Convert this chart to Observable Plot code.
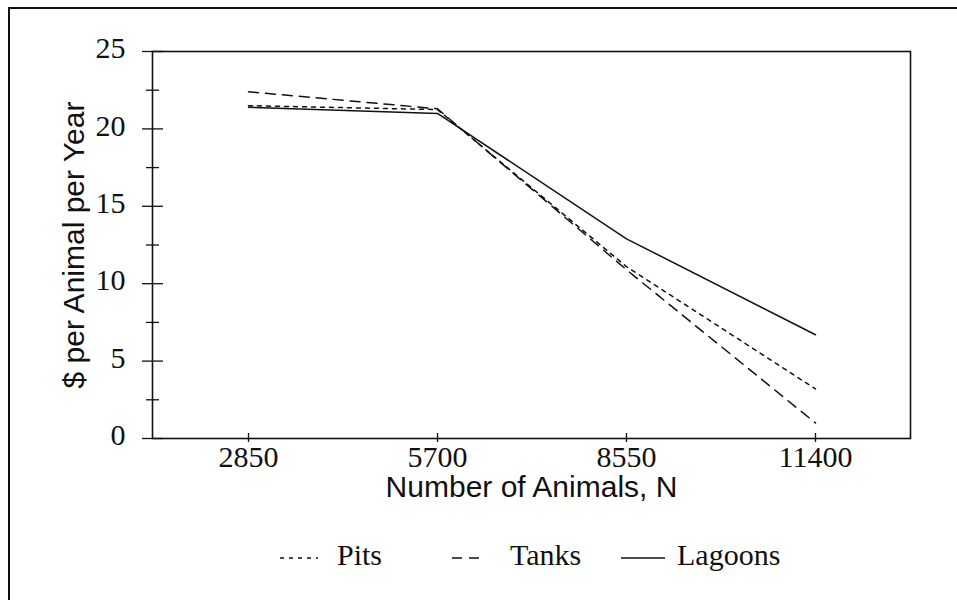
<!DOCTYPE html>
<html>
<head>
<meta charset="utf-8">
<script src="https://cdn.jsdelivr.net/npm/d3@7"></script>
<script src="https://cdn.jsdelivr.net/npm/@observablehq/plot@0.6"></script>
<style>
  html, body { margin: 0; padding: 0; background: #fff; }
  body { width: 957px; height: 600px; overflow: hidden; position: relative; }
  #border { position: absolute; left: 8px; top: 7px; width: 980px; height: 620px;
            border-top: 2px solid #111; border-left: 2px solid #111; }
  #chart { position: absolute; left: 0; top: 0; }
  .lg { position: absolute; font-family: "Liberation Serif", serif; font-size: 30px;
        line-height: 30px; color: #111; white-space: nowrap; }
  .sw { position: absolute; }
</style>
</head>
<body>
<div id="border"></div>
<div id="chart"></div>
<div id="legend"></div>
<script>
// ---- data ----
const categories = [2850, 5700, 8550, 11400];
const seriesNames = ["Pits", "Tanks", "Lagoons"];
const pits    = [21.5, 21.25, 11.1, 3.2];
const tanks   = [22.4, 21.3, 10.9, 1.0];
const lagoons = [21.4, 21.0, 12.9, 6.7];
const yMajorTicks = [0, 5, 10, 15, 20, 25];
const yMinorTicks = [2.5, 7.5, 12.5, 17.5, 22.5];
const xTitle = "Number of Animals, N";
const yTitle = "$ per Animal per Year";

// ---- styles ----
const dash = { Pits: "4,5", Tanks: "10,7", Lagoons: null };
const ink = "#111";
const W = 957, H = 510, mL = 152, mR = 47, mT = 51, mB = 72;
const plotW = W - mL - mR;

const valuesBySeries = { Pits: pits, Tanks: tanks, Lagoons: lagoons };
const rows = seriesNames.flatMap(s => categories.map((c, i) => ({ s, n: c, v: valuesBySeries[s][i] })));

const lineMarks = seriesNames.map(s =>
  Plot.line(rows.filter(r => r.s === s), {
    x: "n", y: "v", stroke: ink, strokeWidth: 1.5,
    strokeDasharray: dash[s] || undefined
  })
);

const chart = Plot.plot({
  width: W, height: H,
  marginLeft: mL, marginRight: mR, marginTop: mT, marginBottom: mB,
  x: { type: "point", domain: categories, padding: 0.5, label: null },
  y: { domain: [0, 25], label: null },
  style: { fontFamily: "Liberation Serif, serif", fontSize: "30px", color: ink, background: "transparent" },
  marks: [
    Plot.frame({ stroke: ink, strokeWidth: 1.6 }),
    Plot.axisY(yMajorTicks, { tickSize: 0, tickPadding: 27, dy: -3, fontSize: 30, label: null }),
    Plot.axisX(categories, { tickSize: 0, tickPadding: 7, fontSize: 30, tickFormat: d => String(d), label: null }),
    Plot.tickY(yMajorTicks, { y: d => d, stroke: ink, strokeWidth: 1.3, insetLeft: -10, insetRight: plotW - 11 }),
    Plot.tickY(yMinorTicks, { y: d => d, stroke: ink, strokeWidth: 1.3, insetLeft: -6, insetRight: plotW - 7 }),
    Plot.ruleX(categories, { x: d => d, y1: 0, y2: 0, stroke: ink, strokeWidth: 1.3, insetTop: -5, insetBottom: -4 }),
    ...lineMarks,
    Plot.text([xTitle], { frameAnchor: "bottom", textAnchor: "middle", lineAnchor: "middle", dy: 49,
      fontFamily: "Liberation Sans, Arial, sans-serif", fontSize: 30, fill: ink }),
    Plot.text([yTitle], { frameAnchor: "left", textAnchor: "middle", lineAnchor: "middle", rotate: -90, dx: -78,
      fontFamily: "Liberation Sans, Arial, sans-serif", fontSize: 30, fill: ink })
  ]
});
document.getElementById("chart").appendChild(chart);

// ---- legend (HTML, below the SVG) ----
const legendLayout = [
  { s: "Pits",    swX: 280, swW: 38, txX: 337 },
  { s: "Tanks",   swX: 452, swW: 33, txX: 510 },
  { s: "Lagoons", swX: 621, swW: 44, txX: 677 }
];
const legend = document.getElementById("legend");
legendLayout.forEach(item => {
  const svgNS = "http://www.w3.org/2000/svg";
  const sw = document.createElementNS(svgNS, "svg");
  sw.setAttribute("class", "sw");
  sw.setAttribute("width", item.swW);
  sw.setAttribute("height", 6);
  sw.style.left = item.swX + "px";
  sw.style.top = "555px";
  const ln = document.createElementNS(svgNS, "line");
  ln.setAttribute("x1", 0); ln.setAttribute("x2", item.swW);
  ln.setAttribute("y1", 3); ln.setAttribute("y2", 3);
  ln.setAttribute("stroke", ink); ln.setAttribute("stroke-width", 1.5);
  if (dash[item.s]) ln.setAttribute("stroke-dasharray", dash[item.s]);
  sw.appendChild(ln);
  legend.appendChild(sw);
  const tx = document.createElement("div");
  tx.className = "lg";
  tx.textContent = item.s;
  tx.style.left = item.txX + "px";
  tx.style.top = "540px";
  legend.appendChild(tx);
});
</script>
</body>
</html>
